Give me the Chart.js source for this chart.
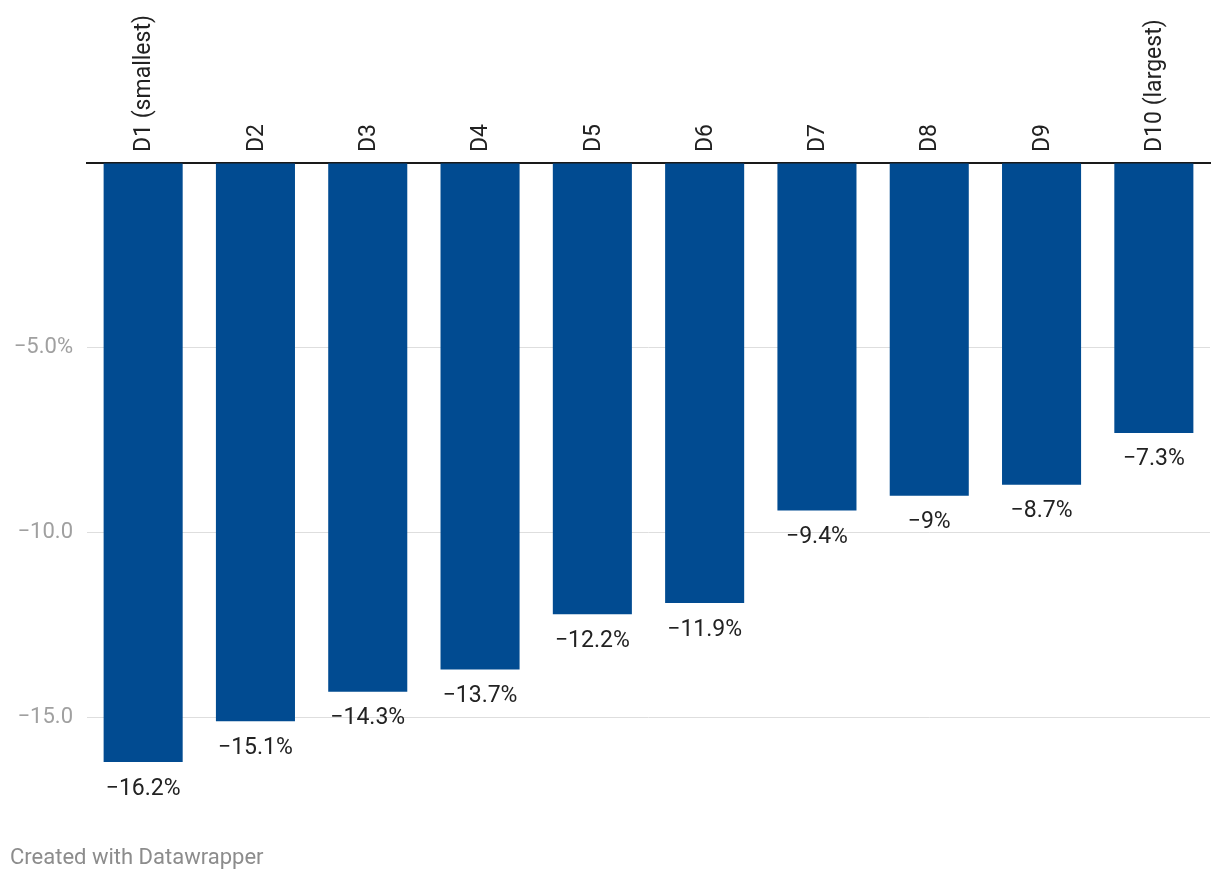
<!DOCTYPE html>
<html>
<head>
<meta charset="utf-8">
<script src="https://cdn.jsdelivr.net/npm/chart.js@4"></script>
<style>
  html, body { margin: 0; padding: 0; background: #fff; }
  #wrap { position: relative; width: 1220px; height: 884px; }
  #footer { position: absolute; left: 10px; top: 844px; font-family: Roboto, sans-serif; font-size: 22px; color: #8c8c8c; }
</style>
</head>
<body>
<div id="wrap">
  <canvas id="c" width="1220" height="884"></canvas>
  <div id="footer">Created with Datawrapper</div>
</div>
<script>
const categories = ["D1 (smallest)", "D2", "D3", "D4", "D5", "D6", "D7", "D8", "D9", "D10 (largest)"];
const values = [-16.2, -15.1, -14.3, -13.7, -12.2, -11.9, -9.4, -9, -8.7, -7.3];
const yTicks = [0, -5, -10, -15];
const yTickLabels = {"0": "", "-5": "\u22125.0%", "-10": "\u221210.0", "-15": "\u221215.0"};

const fmt = v => String(v).replace('-', '\u2212') + '%';

const valueLabels = {
  id: 'valueLabels',
  afterDatasetsDraw(chart) {
    const ctx = chart.ctx;
    const meta = chart.getDatasetMeta(0);
    ctx.save();
    ctx.font = '23px Roboto';
    ctx.fillStyle = '#222222';
    ctx.textAlign = 'center';
    ctx.textBaseline = 'alphabetic';
    meta.data.forEach((bar, i) => {
      ctx.fillText(fmt(values[i]), bar.x, bar.y + 32.5);
    });
    ctx.restore();
  }
};

new Chart(document.getElementById('c'), {
  type: 'bar',
  data: {
    labels: categories,
    datasets: [{
      data: values,
      backgroundColor: '#014b91',
      borderWidth: 0,
      categoryPercentage: 1,
      barPercentage: 0.704
    }]
  },
  options: {
    responsive: false,
    animation: false,
    layout: { padding: { left: 0, right: 10, top: 0, bottom: 55.4 } },
    plugins: { legend: { display: false }, tooltip: { enabled: false } },
    scales: {
      x: {
        position: 'top',
        z: 1,
        grid: { display: false, drawTicks: false },
        border: { display: true, color: '#1a1a1a', width: 2 },
        ticks: {
          autoSkip: false,
          maxRotation: 90,
          minRotation: 90,
          padding: 11,
          labelOffset: 29,
          color: '#222222',
          font: { family: 'Roboto', size: 23 }
        },
        afterFit(scale) { scale.height = 163; }
      },
      y: {
        min: -18,
        max: 0,
        border: { display: false },
        grid: {
          drawTicks: false,
          color: ctx => ctx.tick && ctx.tick.value === 0 ? 'rgba(0,0,0,0)' : '#dedede',
          lineWidth: 1
        },
        afterBuildTicks(scale) {
          scale.ticks = yTicks.map(v => ({ value: v }));
        },
        ticks: {
          padding: 14,
          color: '#a0a0a0',
          font: { family: 'Roboto', size: 22 },
          callback: v => yTickLabels[String(v)]
        },
        afterFit(scale) { scale.width = 87; }
      }
    }
  },
  plugins: [valueLabels]
});
</script>
</body>
</html>
